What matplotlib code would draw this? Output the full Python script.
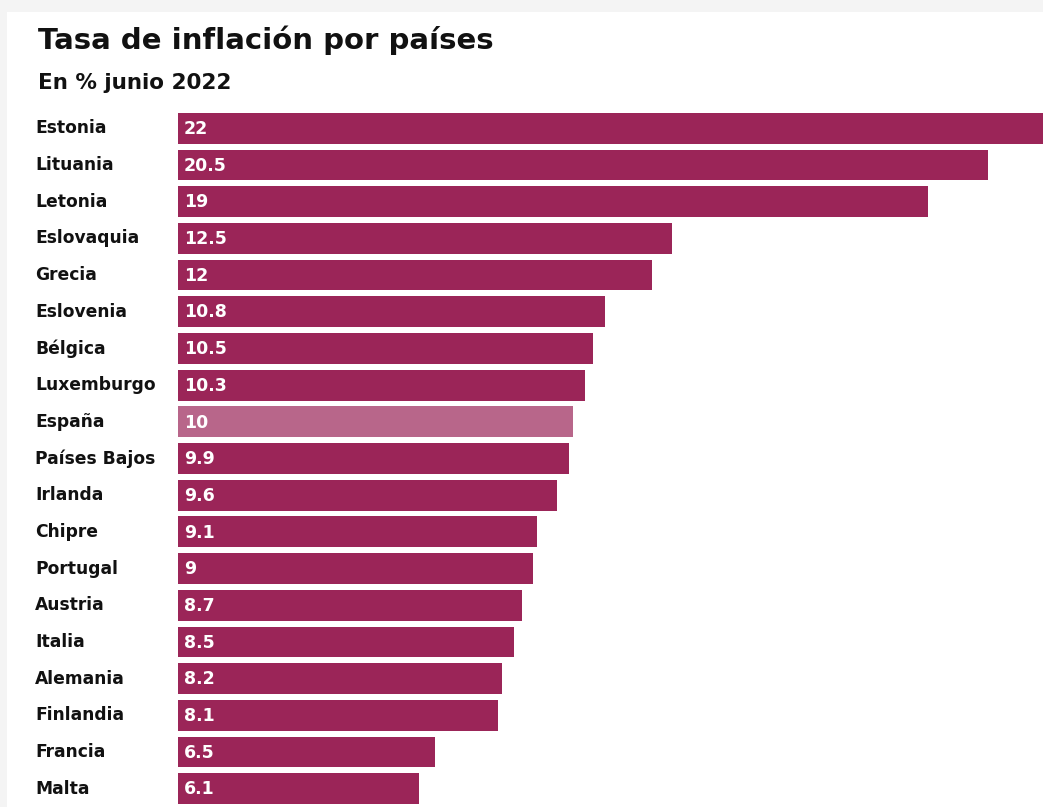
import matplotlib
matplotlib.use("Agg")
import matplotlib.pyplot as plt
from matplotlib.patches import Rectangle

countries = ["Estonia", "Lituania", "Letonia", "Eslovaquia", "Grecia", "Eslovenia",
             "Bélgica", "Luxemburgo", "España", "Países Bajos", "Irlanda", "Chipre",
             "Portugal", "Austria", "Italia", "Alemania", "Finlandia", "Francia", "Malta"]
values = [22, 20.5, 19, 12.5, 12, 10.8, 10.5, 10.3, 10, 9.9, 9.6, 9.1, 9, 8.7, 8.5, 8.2, 8.1, 6.5, 6.1]
value_labels = ["22", "20.5", "19", "12.5", "12", "10.8", "10.5", "10.3", "10", "9.9", "9.6",
                "9.1", "9", "8.7", "8.5", "8.2", "8.1", "6.5", "6.1"]
highlight = "España"

W, H = 1043, 807
fig = plt.figure(figsize=(W / 100, H / 100), dpi=100, facecolor="#f4f4f4")
fig.patches.append(Rectangle((7 / W, 0), 1 - 7 / W, 1 - 12 / H, transform=fig.transFigure,
                             facecolor="white", edgecolor="none", zorder=-10))

ax = fig.add_axes([178 / W, 0.0, 1 - 178 / W, 1 - 110 / H])
ax.set_zorder(5)
ax.set_facecolor("none")
ypos = list(range(len(countries)))
colors = ["#b8668a" if c == highlight else "#9b2558" for c in countries]
ax.barh(ypos, values, height=0.84, color=colors, edgecolor="none")
ax.set_xlim(0, 21.9)
ax.set_ylim(len(countries) - 0.5, -0.5)
ax.axis("off")

font = "DejaVu Sans"
for y, v, lab, c in zip(ypos, values, value_labels, countries):
    ax.text(0.15, y + 0.02, lab, color="white", fontsize=12.5, fontweight="bold",
            va="center", ha="left", family=font)
    ax.annotate(c, xy=(0, y), xycoords=("axes fraction", "data"),
                xytext=(35, 0), textcoords=("figure pixels", "offset points"),
                fontsize=12.3, fontweight="bold", va="center", ha="left",
                color="#111111", family=font, annotation_clip=False)

fig.text(38 / W, 1 - 40 / H, "Tasa de inflación por países", fontsize=21, fontweight="bold",
         va="center", ha="left", color="#111111", family=font, zorder=10)
fig.text(38 / W, 1 - 83 / H, "En % junio 2022", fontsize=15.5, fontweight="bold",
         va="center", ha="left", color="#111111", family=font, zorder=10)

fig.savefig("out.png", dpi=100, facecolor=fig.get_facecolor())
